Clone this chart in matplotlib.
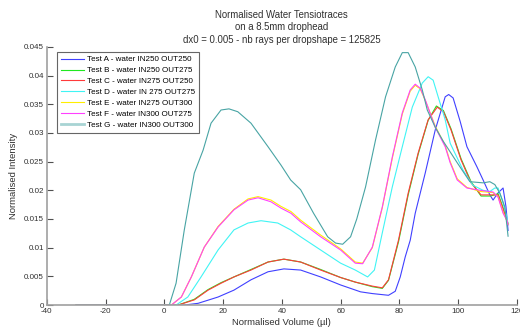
import matplotlib
matplotlib.use("Agg")
import matplotlib.pyplot as plt
import matplotlib.ticker as ticker

plt.rcParams["font.family"] = ["Liberation Sans", "DejaVu Sans"]
plt.rcParams["axes.unicode_minus"] = False

# ------------------------------------------------------------------ #
# Data (volume in µl, normalised intensity)
# ------------------------------------------------------------------ #
xa = [-30, 6.8, 11.5, 18.3, 23.7, 29.5, 35.3, 40.7, 46.4, 53.2, 60, 66.8, 70.8, 76.3, 78.6,
      80.3, 82, 83.7, 85.4, 88.8, 92.2, 95.6, 96.8, 98.3, 100.7, 103, 106.4, 108.5, 110.8,
      111.9, 113.5, 115.3, 116.3, 117]
ya = [0, 0, 0.0003, 0.0014, 0.0026, 0.0044, 0.0058, 0.0063, 0.0061, 0.0049, 0.0035, 0.0023,
      0.0020, 0.0017, 0.0024, 0.0049, 0.0084, 0.0113, 0.016, 0.023, 0.0305, 0.0363, 0.0367,
      0.0361, 0.032, 0.0276, 0.0241, 0.0218, 0.0192, 0.0183, 0.0195, 0.0204, 0.0171, 0.013]

xb = [-30, 4.7, 10.2, 14.9, 19.3, 23.7, 29.5, 35.3, 40.7, 46.4, 53.2, 60, 65, 70.8, 74.2,
      76.3, 79.7, 83, 86.4, 89.8, 92.6, 95, 97.6, 101, 104.4, 107.8, 111, 113.6, 115.3, 117]
yb = [0, 0, 0.0010, 0.0027, 0.0039, 0.0049, 0.0062, 0.0075, 0.0080, 0.0075, 0.0062, 0.0048,
      0.0040, 0.0032, 0.0029, 0.0043, 0.0110, 0.0192, 0.0263, 0.0322, 0.0347, 0.0339, 0.0307,
      0.0255, 0.0215, 0.0190, 0.0190, 0.0194, 0.0170, 0.0142]

xc = [-30, 4.7, 10.2, 14.9, 19.3, 23.7, 29.5, 35.3, 40.7, 46.4, 53.2, 60, 65, 70.8, 74.2,
      76.3, 79.7, 83, 86.4, 89.8, 92.9, 95, 97.6, 101, 104.4, 107.8, 111, 113.6, 115.3, 117]
yc = [0, 0, 0.0009, 0.0026, 0.0038, 0.0049, 0.0061, 0.0075, 0.0080, 0.0075, 0.0061, 0.0048,
      0.0040, 0.0033, 0.0030, 0.0044, 0.0113, 0.0195, 0.0265, 0.0323, 0.0345, 0.0337, 0.0305,
      0.0253, 0.0213, 0.0192, 0.0192, 0.0192, 0.0168, 0.0140]

xd = [-30, 4, 8, 12.5, 18.3, 23.7, 28.5, 32.9, 38.6, 43, 46.4, 53.2, 60, 65, 69.2, 71.5,
      74.2, 77.6, 81, 84.4, 87.8, 89.8, 91.5, 93.2, 95.6, 97.3, 101.7, 105, 108.5, 110.8,
      112.5, 113.6, 115, 116.6, 117]
yd = [0, 0, 0.0014, 0.0049, 0.0096, 0.0131, 0.0143, 0.0147, 0.0143, 0.0131, 0.0119, 0.0096,
      0.0073, 0.0061, 0.0049, 0.0061, 0.0126, 0.0206, 0.0276, 0.0345, 0.0387, 0.0398, 0.0392,
      0.0363, 0.0323, 0.0282, 0.0235, 0.0209, 0.0200, 0.0198, 0.0204, 0.0204, 0.0183, 0.0153,
      0.014]

xe = [-30, 2.4, 5.8, 9.2, 13.6, 18.3, 23.7, 28.5, 31.9, 36.3, 39.7, 43.1, 46.4, 53.2, 60, 65,
      67.5, 70.8, 74.2, 77.6, 81, 83.7, 85.4, 87.1, 88.8, 92.2, 95.6, 97.3, 99.7, 103, 107.5,
      111.9, 113.6, 115.3, 116.6, 117]
ye = [0, 0, 0.0014, 0.0049, 0.0101, 0.0137, 0.0167, 0.0185, 0.0189, 0.0183, 0.0172, 0.0163,
      0.0148, 0.0122, 0.0098, 0.0075, 0.0073, 0.0100, 0.0170, 0.0256, 0.0333, 0.0373, 0.0383,
      0.0377, 0.0357, 0.0312, 0.0278, 0.0250, 0.0220, 0.0205, 0.0198, 0.0196, 0.0189, 0.0162,
      0.0147, 0.0141]

xf = [-30, 2.4, 5.8, 9.2, 13.6, 18.3, 23.7, 28.5, 31.9, 36.3, 39.7, 43.1, 46.4, 53.2, 60, 65,
      67.5, 70.8, 74.2, 77.6, 81, 83.7, 85.4, 87.1, 88.8, 92.2, 95.6, 97.3, 99.7, 103, 107.5,
      111.9, 113.6, 115.3, 116.6, 117]
yf = [0, 0, 0.0014, 0.0049, 0.0101, 0.0136, 0.0166, 0.0183, 0.0187, 0.0180, 0.0169, 0.0160,
      0.0145, 0.0119, 0.0096, 0.0073, 0.0072, 0.0101, 0.0171, 0.0258, 0.0335, 0.0375, 0.0385,
      0.0378, 0.0358, 0.0310, 0.0276, 0.0248, 0.0218, 0.0204, 0.0200, 0.0197, 0.0188, 0.0160,
      0.0148, 0.0140]

xg = [-30, 0, 1.7, 4, 6.8, 10.2, 13.2, 15.9, 19.3, 22, 25, 29.5, 35.3, 39.7, 43, 46.4, 50.8,
      55.6, 58.3, 60.7, 63.4, 65.5, 68.5, 71.9, 75.3, 78.6, 81, 83, 85.4, 87.8, 89.5, 92.2,
      95, 99.7, 104, 108.5, 110.8, 112.5, 114.2, 115.9, 117]
yg = [0, 0, 0, 0.0038, 0.0131, 0.0230, 0.0270, 0.0317, 0.0340, 0.0342, 0.0337, 0.0317,
      0.0276, 0.0244, 0.0218, 0.0201, 0.0160, 0.0119, 0.0108, 0.0106, 0.0119, 0.0150, 0.0206,
      0.0288, 0.0363, 0.0415, 0.0440, 0.0440, 0.0415, 0.0375, 0.0340, 0.0310, 0.0285, 0.0248,
      0.0215, 0.0213, 0.0215, 0.0210, 0.0195, 0.0171, 0.0120]

labels = ["Test A - water IN250 OUT250", "Test B - water IN250 OUT275",
          "Test C - water IN275 OUT250", "Test D - water IN 275 OUT275",
          "Test E - water IN275 OUT300", "Test F - water IN300 OUT275",
          "Test G - water IN300 OUT300"]
colors = ["#4040ff", "#20e820", "#ff3a3a", "#40f4f4", "#ffee00", "#ff40ff", "#48a4a4"]

series = [(xa, ya), (xb, yb), (xc, yc), (xd, yd), (xe, ye), (xf, yf), (xg, yg)]

# ------------------------------------------------------------------ #
# Plot
# ------------------------------------------------------------------ #
fig = plt.figure(figsize=(5.2, 3.28), dpi=100)
ax = fig.add_axes([0.090, 0.070, 0.904, 0.787])

for (xs, ys), lab, col in zip(series, labels, colors):
    ax.plot(xs, ys, color=col, linewidth=0.8, label=lab)

ax.set_xlim(-40, 120)
ax.set_ylim(0, 0.045)
ax.set_xticks(range(-40, 121, 20))
ax.set_yticks([i * 0.005 for i in range(10)])
ax.yaxis.set_major_formatter(ticker.FormatStrFormatter("%g"))

for s in ["top", "right"]:
    ax.spines[s].set_visible(False)
for s in ["left", "bottom"]:
    ax.spines[s].set_color("#a0a0a0")
    ax.spines[s].set_linewidth(1.2)
ax.tick_params(direction="in", length=4, width=0.8, color="#505050",
               labelsize=5.8, labelcolor="#303030", pad=2)

ax.set_xlabel("Normalised Volume (µl)", fontsize=6.8, color="#303030", labelpad=2)
ax.set_ylabel("Normalised Intensity", fontsize=6.8, color="#303030", labelpad=4)
ax.set_title("Normalised Water Tensiotraces\non a 8.5mm drophead\n"
             "dx0 = 0.005 - nb rays per dropshape = 125825",
             fontsize=6.9, color="#303030", pad=3, linespacing=1.32)

leg = ax.legend(loc="upper left", bbox_to_anchor=(0.021, 0.981), borderaxespad=0,
                fontsize=5.8, frameon=True, fancybox=False, handlelength=2.9,
                handletextpad=0.4, labelspacing=0.4, borderpad=0.5)
leg.get_frame().set_edgecolor("#404040")
leg.get_frame().set_linewidth(0.8)
leg.get_lines()[6].set_linewidth(2.0)
leg.get_lines()[6].set_color("#a8d4d4")

plt.savefig("out.png", dpi=100)
plt.close()
